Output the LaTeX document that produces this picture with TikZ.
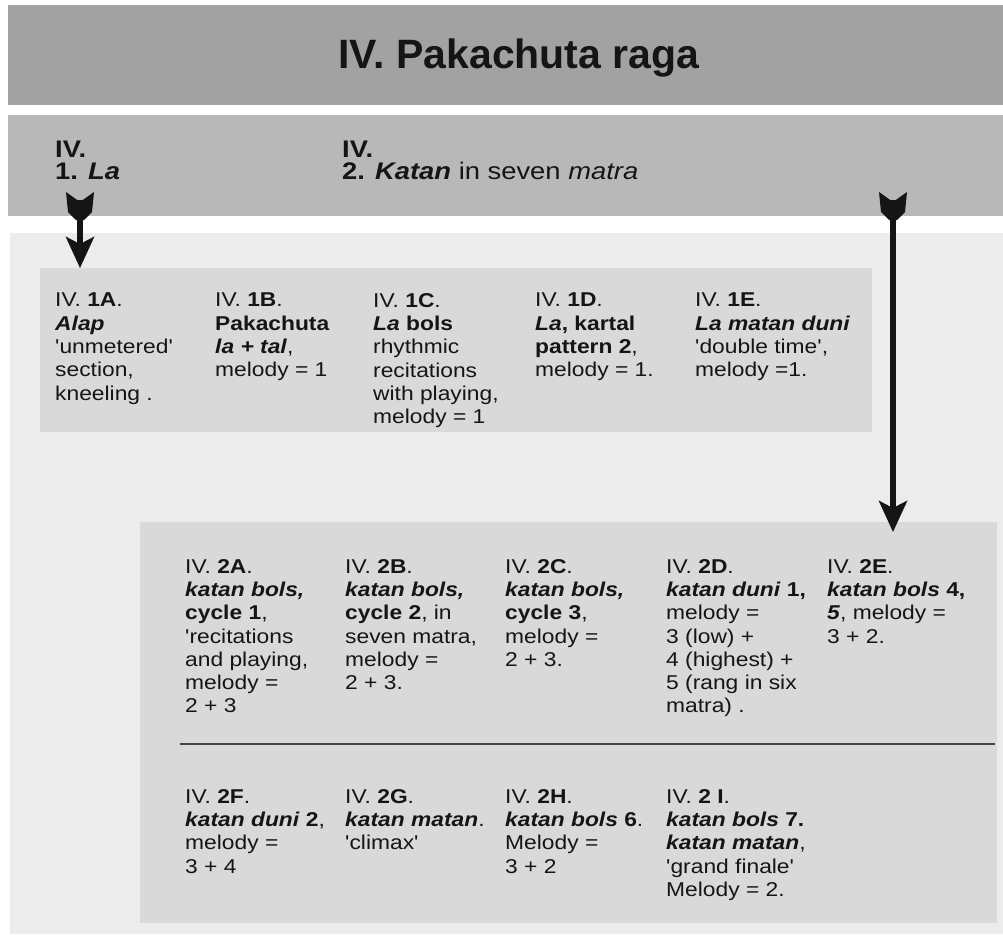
\documentclass[tikz,border=0pt]{standalone}
\usepackage{fontspec}
\newfontfamily\bodyfont[FakeStretch=1.14, Ligatures=TeXOff]{Liberation Sans}
\newfontfamily\titlefont{Liberation Sans}
\usetikzlibrary{arrows.meta, positioning, calc}
\definecolor{titlegray}{HTML}{A2A2A2}
\definecolor{headgray}{HTML}{B8B8B8}
\definecolor{panelgray}{HTML}{ECECEC}
\definecolor{boxgray}{HTML}{D9D9D9}
\definecolor{inkgray}{HTML}{151515}

\begin{document}
\begin{tikzpicture}[x=1pt, y=-1pt, line join=round]
    \tikzset{bar/.style={draw=none, inner sep=0pt, anchor=north west}}
    \tikzset{cell/.style={anchor=north west, inner sep=0pt, align=left, text=inkgray,
                          font=\bodyfont\fontsize{20}{23.3}\selectfont}}
    \tikzset{heading/.style={anchor=north west, inner sep=0pt, align=left, text=inkgray,
                             font=\bodyfont\fontsize{24}{22}\selectfont}}
    \tikzset{flow/.style={-{Stealth[length=31pt, width=28pt, inset=7pt]}, line width=5.5pt, inkgray}}
    \useasboundingbox[fill=white] (0,0) rectangle (1003,934);

    % bars and panels
    \node[bar, fill=titlegray, minimum width=995pt, minimum height=100pt] (titlebar) at (8,5) {};
    \node[bar, fill=headgray, minimum width=995pt, minimum height=101pt] (headbar) at (8,115) {};
    \node[bar, fill=panelgray, minimum width=993pt, minimum height=701pt] (panel) at (10,233) {};
    \node[bar, fill=boxgray, minimum width=832pt, minimum height=164pt] (row1) at (40,268) {};
    \node[bar, fill=boxgray, minimum width=857pt, minimum height=401pt] (row2) at (140,522) {};

    \node[font=\titlefont\bfseries\fontsize{41}{41}\selectfont, text=inkgray, anchor=base]
        (title) at (519,68) {IV. Pakachuta raga};

    \node[heading] (headla) at (55,141) {\textbf{IV.}\\\textbf{1. \textit{La}}};
    \node[heading] (headkatan) at (342,141) {\textbf{IV.}\\\textbf{2. \textit{Katan}} in seven \textit{matra}};

    % arrows, with notched tails
    \coordinate (la tail) at (80,200);
    \coordinate (katan tail) at (893,200);
    \draw[flow] (la tail) -- (la tail |- row1.north);
    \draw[flow] (katan tail) -- ([yshift=-10pt]katan tail |- row2.north);
    \foreach \t in {la tail, katan tail} {
        \fill[inkgray] ($(\t)+(-14,-8)$) -- ($(\t)+(0,2)$) -- ($(\t)+(14,-8)$) -- ($(\t)+(12,12)$)
                    -- ($(\t)+(4,20)$) -- ($(\t)+(-4,20)$) -- ($(\t)+(-12,12)$) -- cycle;
    }

    % row 1
    \node[cell] (c1A) at (55,293) {IV. \textbf{1A}.\\\textbf{\textit{Alap}}\\'unmetered'\\section,\\kneeling .};
    \node[cell] (c1B) at (215,293) {IV. \textbf{1B}.\\\textbf{Pakachuta}\\\textbf{\textit{la + tal}},\\melody = 1};
    \node[cell] (c1C) at (373,293) {IV. \textbf{1C}.\\\textbf{\textit{La} bols}\\rhythmic\\recitations\\with playing,\\melody = 1};
    \node[cell] (c1D) at (535,293) {IV. \textbf{1D}.\\\textbf{\textit{La}, kartal}\\\textbf{pattern 2},\\melody = 1.};
    \node[cell] (c1E) at (695,293) {IV. \textbf{1E}.\\\textbf{\textit{La matan duni}}\\'double time',\\melody =1.};

    % row 2
    \draw[inkgray!80, line width=1.8pt] (180,744) -- (995,744);
    \node[cell] (c2A) at (185,559) {IV. \textbf{2A}.\\\textbf{\textit{katan bols,}}\\\textbf{cycle 1},\\'recitations\\and playing,\\melody =\\2 + 3};
    \node[cell] (c2B) at (345,559) {IV. \textbf{2B}.\\\textbf{\textit{katan bols,}}\\\textbf{cycle 2}, in\\seven matra,\\melody =\\2 + 3.};
    \node[cell] (c2C) at (505,559) {IV. \textbf{2C}.\\\textbf{\textit{katan bols,}}\\\textbf{cycle 3},\\melody =\\2 + 3.};
    \node[cell] (c2D) at (666,559) {IV. \textbf{2D}.\\\textbf{\textit{katan duni} 1,}\\melody =\\3 (low) +\\4 (highest) +\\5 (rang in six\\matra) .};
    \node[cell] (c2E) at (827,559) {IV. \textbf{2E}.\\\textbf{\textit{katan bols} 4,}\\\textbf{\textit{5}}, melody =\\3 + 2.};

    \node[cell] (c2F) at (185,789) {IV. \textbf{2F}.\\\textbf{\textit{katan duni} 2},\\melody =\\3 + 4};
    \node[cell] (c2G) at (345,789) {IV. \textbf{2G}.\\\textbf{\textit{katan matan}}.\\'climax'};
    \node[cell] (c2H) at (505,789) {IV. \textbf{2H}.\\\textbf{\textit{katan bols} 6}.\\Melody =\\3 + 2};
    \node[cell] (c2I) at (666,789) {IV. \textbf{2 I}.\\\textbf{\textit{katan bols} 7.}\\\textbf{\textit{katan matan}},\\'grand finale'\\Melody = 2.};
\end{tikzpicture}
\end{document}
